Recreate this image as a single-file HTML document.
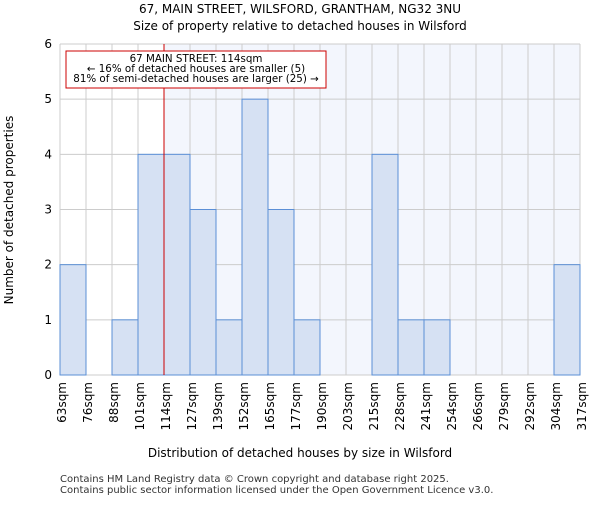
<!DOCTYPE html>
<html><head><meta charset="utf-8"><style>body{margin:0;background:#fff}svg{font-family:"DejaVu Sans","Liberation Sans",sans-serif}</style></head>
<body>
<svg id="c" width="600" height="500" xmlns="http://www.w3.org/2000/svg">
<text x="300" y="13" text-anchor="middle" font-size="12">67, MAIN STREET, WILSFORD, GRANTHAM, NG32 3NU</text>
<text x="300" y="30" text-anchor="middle" font-size="12">Size of property relative to detached houses in Wilsford</text>
<g id="plot"></g>
<text x="300" y="457" text-anchor="middle" font-size="12">Distribution of detached houses by size in Wilsford</text>
<text transform="translate(13,210) rotate(-90)" text-anchor="middle" font-size="12">Number of detached properties</text>
<text x="60" y="482" font-size="10" fill="#333">Contains HM Land Registry data © Crown copyright and database right 2025.</text>
<text x="60" y="493" font-size="10" fill="#333">Contains public sector information licensed under the Open Government Licence v3.0.</text>
</svg>
<script>
const categories=["63sqm","76sqm","88sqm","101sqm","114sqm","127sqm","139sqm","152sqm","165sqm","177sqm","190sqm","203sqm","215sqm","228sqm","241sqm","254sqm","266sqm","279sqm","292sqm","304sqm","317sqm"];
const counts=[2,0,1,4,4,3,1,5,3,1,0,0,4,1,1,0,0,0,0,2];
const yTicks=[0,1,2,3,4,5,6];
const markerIndex=4;
const NS="http://www.w3.org/2000/svg";
const L=60,R=580,T=44,B=375,yMax=6;
const bw=(R-L)/counts.length;
const xs=i=>L+i*bw;
const ys=v=>B-(v/yMax)*(B-T);
const g=document.getElementById('plot');
function mk(t,a){const e=document.createElementNS(NS,t);for(const k in a)e.setAttribute(k,a[k]);g.appendChild(e);return e;}
let e=mk('rect',{x:xs(markerIndex),y:T,width:R-xs(markerIndex),height:B-T,fill:'#f3f6fd'});


for(let i=0;i<=counts.length;i++){e=mk('line',{x1:xs(i),x2:xs(i),y1:T,y2:B,stroke:'#cccccc'});

}
yTicks.forEach(v=>{e=mk('line',{x1:L,x2:R,y1:ys(v),y2:ys(v),stroke:'#cccccc'});


e=mk('text',{x:L-8,y:ys(v)+4,'text-anchor':'end','font-size':12});e.textContent=v;

});
counts.forEach((c,i)=>{if(c>0){e=mk('rect',{x:xs(i),y:ys(c),width:bw,height:B-ys(c),fill:'#d6e1f3',stroke:'#5b8fd6','stroke-width':1});

}});
categories.forEach((c,i)=>{const x=xs(i);e=mk('text',{transform:`translate(${x+6},382) rotate(-90)`,'text-anchor':'end','font-size':12});e.textContent=c;

});
e=mk('line',{x1:xs(markerIndex),x2:xs(markerIndex),y1:T,y2:B,stroke:'#cc0000','stroke-width':1});


e=mk('rect',{x:66,y:51,width:260,height:37,fill:'#fff',stroke:'#cc0000'});


["67 MAIN STREET: 114sqm","← 16% of detached houses are smaller (5)","81% of semi-detached houses are larger (25) →"].forEach((t,i)=>{e=mk('text',{x:196,y:62+i*10,'text-anchor':'middle','font-size':10.3});e.textContent=t;

});
</script>
</body></html>
